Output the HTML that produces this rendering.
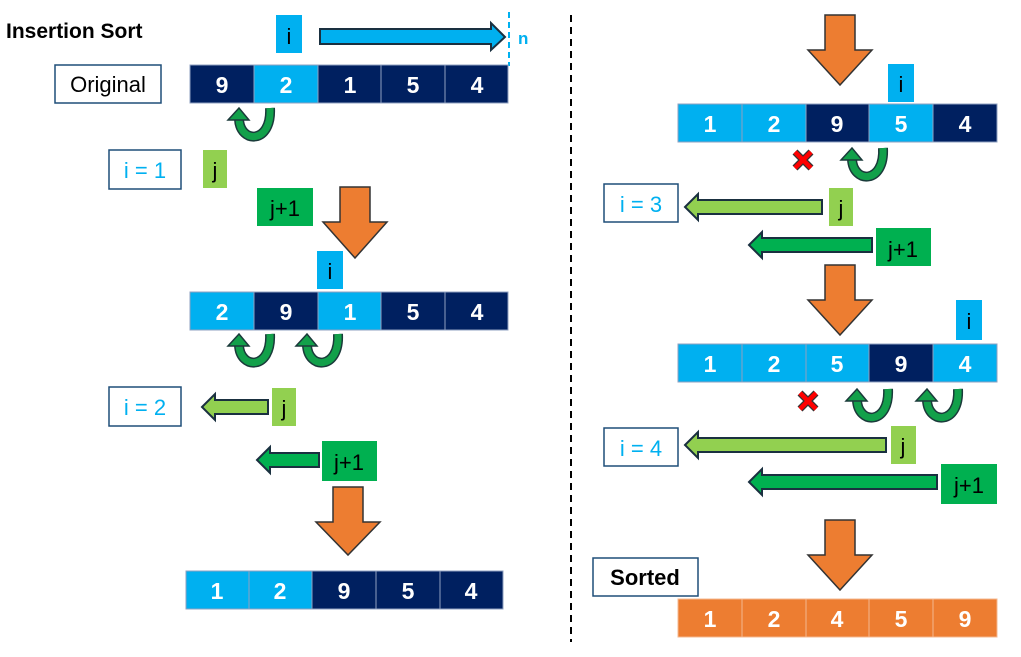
<!DOCTYPE html>
<html><head><meta charset="utf-8"><style>
html,body{margin:0;padding:0;background:#fff;}
svg{display:block;font-family:"Liberation Sans","DejaVu Sans",sans-serif;}
.c{font-size:23px;font-weight:bold;fill:#fff;text-anchor:middle;}
.l{font-size:22px;text-anchor:middle;}
</style></head><body>
<svg width="1021" height="657" viewBox="0 0 1021 657" xmlns="http://www.w3.org/2000/svg">
<defs>
<g id="cv">
<path d="M38 0 C40 36 8 36 7 11" fill="none" stroke="#1a3a3a" stroke-width="10"/>
<path d="M38 0 C40 36 8 36 7 11" fill="none" stroke="#12a04a" stroke-width="7"/>
<polygon points="-4,12 17,12 7,0" fill="#12a04a" stroke="#1a3a3a" stroke-width="1.5"/>
</g>
<g id="xx">
<path d="M-8 -8 L8 8 M8 -8 L-8 8" stroke="#333" stroke-width="7"/>
<path d="M-8 -8 L8 8 M8 -8 L-8 8" stroke="#f00" stroke-width="4.5"/>
</g>
</defs>
<text x="6" y="38" font-size="21" font-weight="bold">Insertion Sort</text>
<line x1="571" y1="15" x2="571" y2="642" stroke="#000" stroke-width="2" stroke-dasharray="7,5"/>

<rect x="276" y="15" width="26" height="38" fill="#00b0f0"/><text x="289" y="44" class="l">i</text>
<polygon points="320,29 491,29 491,23 505,37 491,50 491,44 320,44" fill="#00b0f0" stroke="#1a3040" stroke-width="2"/>
<line x1="509" y1="12" x2="509" y2="66" stroke="#00b0f0" stroke-width="2" stroke-dasharray="6,4"/>
<text x="518" y="44" font-size="17" font-weight="bold" fill="#00b0f0">n</text>

<rect x="55" y="65" width="106" height="38" fill="#fff" stroke="#1f4e79" stroke-width="1.5"/><text x="108" y="92" class="l">Original</text>

<g stroke="#8fa0c0" stroke-width="1">
<rect x="190" y="65" width="64" height="38" fill="#002060"/><rect x="254" y="65" width="64" height="38" fill="#00b0f0"/>
<rect x="318" y="65" width="63" height="38" fill="#002060"/><rect x="381" y="65" width="64" height="38" fill="#002060"/><rect x="445" y="65" width="63" height="38" fill="#002060"/>
</g>
<text x="222" y="93" class="c">9</text><text x="286" y="93" class="c">2</text><text x="350" y="93" class="c">1</text><text x="413" y="93" class="c">5</text><text x="477" y="93" class="c">4</text>
<use href="#cv" x="232" y="108"/>

<rect x="109" y="150" width="72" height="39" fill="#fff" stroke="#1f4e79" stroke-width="1.5"/><text x="145" y="178" class="l" fill="#00b0f0">i = 1</text>
<rect x="203" y="150" width="24" height="38" fill="#92d050"/><text x="215" y="178" class="l">j</text>
<rect x="257" y="188" width="56" height="38" fill="#00b050"/><text x="285" y="216" class="l">j+1</text>
<polygon points="340,187 370,187 370,222 387,222 355,258 323,222 340,222" fill="#ed7d31" stroke="#333" stroke-width="1.5"/>
<rect x="317" y="251" width="26" height="38" fill="#00b0f0"/><text x="330" y="279" class="l">i</text>

<g stroke="#8fa0c0" stroke-width="1">
<rect x="190" y="292" width="64" height="38" fill="#00b0f0"/><rect x="254" y="292" width="64" height="38" fill="#002060"/>
<rect x="318" y="292" width="63" height="38" fill="#00b0f0"/><rect x="381" y="292" width="64" height="38" fill="#002060"/><rect x="445" y="292" width="63" height="38" fill="#002060"/>
</g>
<text x="222" y="320" class="c">2</text><text x="286" y="320" class="c">9</text><text x="350" y="320" class="c">1</text><text x="413" y="320" class="c">5</text><text x="477" y="320" class="c">4</text>
<use href="#cv" x="232" y="334"/><use href="#cv" x="300" y="334"/>

<rect x="109" y="387" width="72" height="39" fill="#fff" stroke="#1f4e79" stroke-width="1.5"/><text x="145" y="415" class="l" fill="#00b0f0">i = 2</text>
<polygon points="202,407 215,394 215,400 268,400 268,414 215,414 215,420" fill="#92d050" stroke="#1a3040" stroke-width="2"/>
<rect x="272" y="388" width="24" height="38" fill="#92d050"/><text x="284" y="416" class="l">j</text>
<polygon points="257,460 270,447 270,453 319,453 319,467 270,467 270,473" fill="#00b050" stroke="#1a3040" stroke-width="2"/>
<rect x="322" y="441" width="55" height="40" fill="#00b050"/><text x="349" y="470" class="l">j+1</text>
<polygon points="333,487 363,487 363,522 380,522 348,555 316,522 333,522" fill="#ed7d31" stroke="#333" stroke-width="1.5"/>

<g stroke="#8fa0c0" stroke-width="1">
<rect x="186" y="571" width="63" height="38" fill="#00b0f0"/><rect x="249" y="571" width="63" height="38" fill="#00b0f0"/>
<rect x="312" y="571" width="64" height="38" fill="#002060"/><rect x="376" y="571" width="64" height="38" fill="#002060"/><rect x="440" y="571" width="63" height="38" fill="#002060"/>
</g>
<text x="217" y="599" class="c">1</text><text x="280" y="599" class="c">2</text><text x="344" y="599" class="c">9</text><text x="408" y="599" class="c">5</text><text x="471" y="599" class="c">4</text>

<polygon points="825,15 855,15 855,50 872,50 840,85 808,50 825,50" fill="#ed7d31" stroke="#333" stroke-width="1.5"/>
<rect x="888" y="64" width="26" height="38" fill="#00b0f0"/><text x="901" y="92" class="l">i</text>
<g stroke="#8fa0c0" stroke-width="1">
<rect x="678" y="104" width="64" height="38" fill="#00b0f0"/><rect x="742" y="104" width="64" height="38" fill="#00b0f0"/>
<rect x="806" y="104" width="63" height="38" fill="#002060"/><rect x="869" y="104" width="64" height="38" fill="#00b0f0"/><rect x="933" y="104" width="64" height="38" fill="#002060"/>
</g>
<text x="710" y="132" class="c">1</text><text x="774" y="132" class="c">2</text><text x="837" y="132" class="c">9</text><text x="901" y="132" class="c">5</text><text x="965" y="132" class="c">4</text>
<use href="#xx" x="803" y="160"/>
<use href="#cv" x="845" y="148"/>

<rect x="604" y="184" width="74" height="38" fill="#fff" stroke="#1f4e79" stroke-width="1.5"/><text x="641" y="212" class="l" fill="#00b0f0">i = 3</text>
<polygon points="685,207 698,194 698,200 822,200 822,214 698,214 698,220" fill="#92d050" stroke="#1a3040" stroke-width="2"/>
<rect x="829" y="188" width="24" height="38" fill="#92d050"/><text x="841" y="216" class="l">j</text>
<polygon points="749,245 762,232 762,238 872,238 872,252 762,252 762,258" fill="#00b050" stroke="#1a3040" stroke-width="2"/>
<rect x="876" y="228" width="55" height="38" fill="#00b050"/><text x="903" y="257" class="l">j+1</text>
<polygon points="825,265 855,265 855,300 872,300 840,335 808,300 825,300" fill="#ed7d31" stroke="#333" stroke-width="1.5"/>
<rect x="956" y="300" width="26" height="40" fill="#00b0f0"/><text x="969" y="329" class="l">i</text>
<g stroke="#8fa0c0" stroke-width="1">
<rect x="678" y="344" width="64" height="38" fill="#00b0f0"/><rect x="742" y="344" width="64" height="38" fill="#00b0f0"/>
<rect x="806" y="344" width="63" height="38" fill="#00b0f0"/><rect x="869" y="344" width="64" height="38" fill="#002060"/><rect x="933" y="344" width="64" height="38" fill="#00b0f0"/>
</g>
<text x="710" y="372" class="c">1</text><text x="774" y="372" class="c">2</text><text x="837" y="372" class="c">5</text><text x="901" y="372" class="c">9</text><text x="965" y="372" class="c">4</text>
<use href="#xx" x="808" y="401"/>
<use href="#cv" x="850" y="389"/><use href="#cv" x="920" y="389"/>

<rect x="604" y="428" width="74" height="38" fill="#fff" stroke="#1f4e79" stroke-width="1.5"/><text x="641" y="456" class="l" fill="#00b0f0">i = 4</text>
<polygon points="685,445 698,432 698,438 886,438 886,452 698,452 698,458" fill="#92d050" stroke="#1a3040" stroke-width="2"/>
<rect x="891" y="426" width="25" height="38" fill="#92d050"/><text x="903" y="454" class="l">j</text>
<polygon points="749,482 762,469 762,475 937,475 937,489 762,489 762,495" fill="#00b050" stroke="#1a3040" stroke-width="2"/>
<rect x="941" y="464" width="56" height="40" fill="#00b050"/><text x="969" y="493" class="l">j+1</text>
<polygon points="825,520 855,520 855,555 872,555 840,590 808,555 825,555" fill="#ed7d31" stroke="#333" stroke-width="1.5"/>
<rect x="593" y="558" width="105" height="38" fill="#fff" stroke="#1f4e79" stroke-width="1.5"/><text x="645" y="585" class="l" font-weight="bold" font-size="21">Sorted</text>
<g stroke="#f4b890" stroke-width="1" fill="#ed7d31">
<rect x="678" y="599" width="64" height="38"/><rect x="742" y="599" width="64" height="38"/>
<rect x="806" y="599" width="63" height="38"/><rect x="869" y="599" width="64" height="38"/><rect x="933" y="599" width="64" height="38"/>
</g>
<text x="710" y="627" class="c">1</text><text x="774" y="627" class="c">2</text><text x="837" y="627" class="c">4</text><text x="901" y="627" class="c">5</text><text x="965" y="627" class="c">9</text>
</svg>
</body></html>
